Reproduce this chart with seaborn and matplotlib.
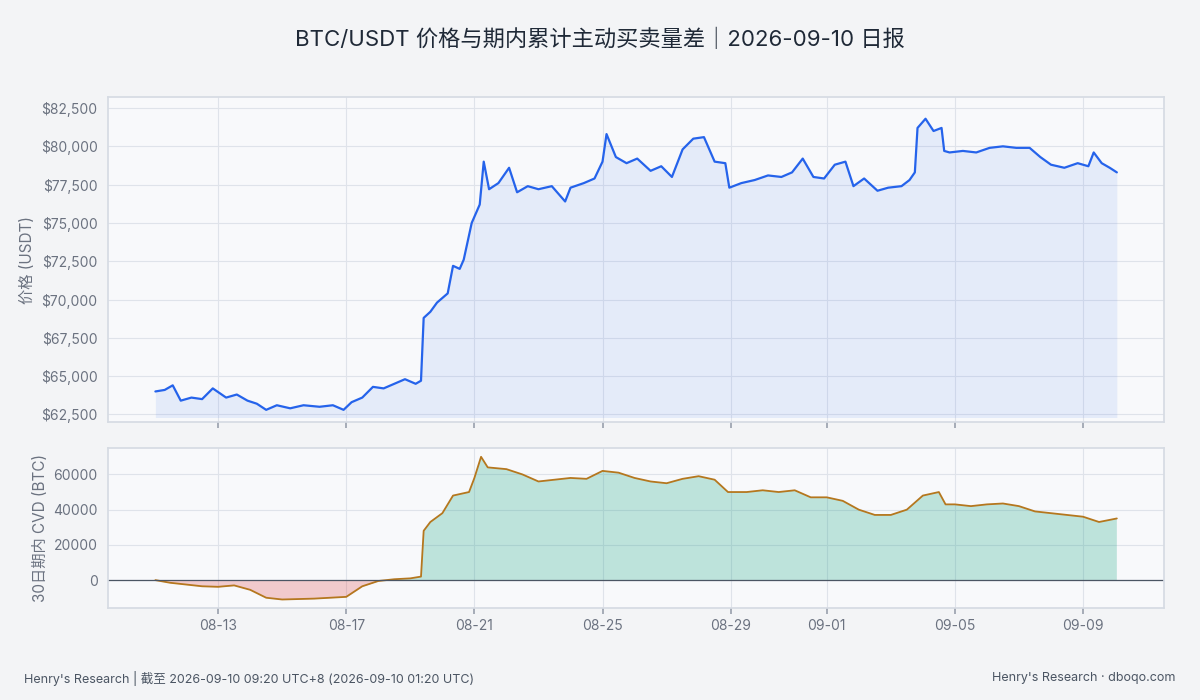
import pandas as pd
import numpy as np
import matplotlib.pyplot as plt
import matplotlib.dates as mdates
import matplotlib.ticker as mticker
import seaborn as sns

sns.set_theme(style="whitegrid")
plt.rcParams["font.family"] = ["Inter", "Noto Sans CJK SC", "DejaVu Sans"]

# ── 数据 ─────────────────────────────────────────────
PRICE_T = ["08-11 01:00", "08-11 08:00", "08-11 14:00", "08-11 20:00", "08-12 04:00", "08-12 12:00",
           "08-12 20:00", "08-13 06:00", "08-13 14:00", "08-13 22:00", "08-14 05:00", "08-14 12:00",
           "08-14 20:00", "08-15 06:00", "08-15 16:00", "08-16 04:00", "08-16 14:00", "08-16 22:00",
           "08-17 04:00", "08-17 12:00", "08-17 20:00", "08-18 04:00", "08-18 12:00", "08-18 20:00",
           "08-19 04:00", "08-19 08:00", "08-19 10:00", "08-19 15:00", "08-19 20:00", "08-20 04:00",
           "08-20 08:00", "08-20 13:00", "08-20 16:00", "08-20 22:00", "08-21 04:00", "08-21 07:00",
           "08-21 11:00", "08-21 18:00", "08-22 02:00", "08-22 08:00", "08-22 16:00", "08-23 00:00",
           "08-23 10:00", "08-23 20:00", "08-24 00:00", "08-24 10:00", "08-24 18:00", "08-25 00:00",
           "08-25 03:00", "08-25 10:00", "08-25 18:00", "08-26 02:00", "08-26 12:00", "08-26 20:00",
           "08-27 04:00", "08-27 12:00", "08-27 20:00", "08-28 04:00", "08-28 12:00", "08-28 20:00",
           "08-28 23:00", "08-29 08:00", "08-29 18:00", "08-30 04:00", "08-30 14:00", "08-30 22:00",
           "08-31 06:00", "08-31 14:00", "08-31 22:00", "09-01 06:00", "09-01 14:00", "09-01 20:00",
           "09-02 04:00", "09-02 14:00", "09-02 22:00", "09-03 08:00", "09-03 14:00", "09-03 18:00",
           "09-03 20:00", "09-04 02:00", "09-04 08:00", "09-04 14:00", "09-04 16:00", "09-04 20:00",
           "09-05 06:00", "09-05 16:00", "09-06 02:00", "09-06 12:00", "09-06 22:00", "09-07 08:00",
           "09-07 16:00", "09-08 00:00", "09-08 10:00", "09-08 20:00", "09-09 04:00", "09-09 08:00",
           "09-09 14:00", "09-09 20:00", "09-10 01:20"]
PRICE = [64000, 64100, 64400, 63400, 63600, 63500, 64200, 63600, 63800, 63400, 63200, 62800,
         63100, 62900, 63100, 63000, 63100, 62800, 63300, 63600, 64300, 64200, 64500, 64800,
         64500, 64700, 68800, 69200, 69800, 70400, 72200, 72000, 72600, 75000, 76200, 79000,
         77200, 77600, 78600, 77000, 77400, 77200, 77400, 76400, 77300, 77600, 77900, 79000,
         80800, 79300, 78900, 79200, 78400, 78700, 78000, 79800, 80500, 80600, 79000, 78900,
         77300, 77600, 77800, 78100, 78000, 78300, 79200, 78000, 77900, 78800, 79000, 77400,
         77900, 77100, 77300, 77400, 77800, 78300, 81200, 81800, 81000, 81200, 79700, 79600,
         79700, 79600, 79900, 80000, 79900, 79900, 79300, 78800, 78600, 78900, 78700, 79600,
         78900, 78600, 78300]

CVD_T = ["08-11 01:00", "08-11 12:00", "08-12 00:00", "08-12 12:00", "08-13 00:00", "08-13 12:00",
         "08-14 00:00", "08-14 12:00", "08-15 00:00", "08-16 00:00", "08-17 00:00", "08-17 12:00",
         "08-18 00:00", "08-18 12:00", "08-19 00:00", "08-19 08:00", "08-19 10:00", "08-19 15:00",
         "08-20 00:00", "08-20 08:00", "08-20 20:00", "08-21 00:00", "08-21 05:00", "08-21 10:00",
         "08-22 00:00", "08-22 12:00", "08-23 00:00", "08-23 12:00", "08-24 00:00", "08-24 12:00",
         "08-25 00:00", "08-25 12:00", "08-26 00:00", "08-26 12:00", "08-27 00:00", "08-27 12:00",
         "08-28 00:00", "08-28 12:00", "08-28 22:00", "08-29 12:00", "08-30 00:00", "08-30 12:00",
         "08-31 00:00", "08-31 12:00", "09-01 00:00", "09-01 12:00", "09-02 00:00", "09-02 12:00",
         "09-03 00:00", "09-03 12:00", "09-04 00:00", "09-04 12:00", "09-04 17:00", "09-05 00:00",
         "09-05 12:00", "09-06 00:00", "09-06 12:00", "09-07 00:00", "09-07 12:00", "09-08 00:00",
         "09-08 12:00", "09-09 00:00", "09-09 12:00", "09-10 01:20"]
CVD = [0, -1500, -2500, -3500, -3800, -3000, -5500, -10000, -11000, -10500, -9500, -3500,
       -500, 500, 1000, 2000, 28000, 33000, 38000, 48000, 50000, 58000, 70000, 64000,
       63000, 60000, 56000, 57000, 58000, 57500, 62000, 61000, 58000, 56000, 55000, 57500,
       59000, 57000, 50000, 50000, 51000, 50000, 51000, 47000, 47000, 45000, 40000, 37000,
       37000, 40000, 48000, 50000, 43000, 43000, 42000, 43000, 43500, 42000, 39000, 38000,
       37000, 36000, 33000, 35000]

YEAR = "2026-"
pt = pd.to_datetime([YEAR + t for t in PRICE_T])
ct = pd.to_datetime([YEAR + t for t in CVD_T])
price = np.array(PRICE)
cvd = np.array(CVD)

# ── 画布 ─────────────────────────────────────────────
BG, AX_BG, GRID, TXT = "#f3f4f6", "#f8f9fb", "#dfe3ea", "#6b7280"
fig = plt.figure(figsize=(12, 7), dpi=100, facecolor=BG)
ax1 = fig.add_axes([0.09, 0.397, 0.88, 0.464], facecolor=AX_BG)
ax2 = fig.add_axes([0.09, 0.131, 0.88, 0.229], facecolor=AX_BG, sharex=ax1)

# 价格
sns.lineplot(x=pt, y=price, ax=ax1, color="#2563eb", lw=1.6)
ax1.fill_between(pt, price, 62300, color="#2563eb", alpha=0.09, lw=0)
ax1.set_ylim(62000, 83200)
ax1.yaxis.set_major_locator(mticker.MultipleLocator(2500))
ax1.yaxis.set_major_formatter(mticker.FuncFormatter(lambda v, _: f"${v:,.0f}"))
ax1.set_ylabel("价格 (USDT)", color=TXT, fontsize=11)
plt.setp(ax1.get_xticklabels(), visible=False)

# CVD
sns.lineplot(x=ct, y=cvd, ax=ax2, color="#b5771e", lw=1.3)
ax2.fill_between(ct, cvd, 0, where=cvd >= 0, interpolate=True, color="#10a37f", alpha=0.25, lw=0)
ax2.fill_between(ct, cvd, 0, where=cvd < 0, interpolate=True, color="#dc2626", alpha=0.22, lw=0)
ax2.axhline(0, color="#4b5563", lw=0.9)
ax2.set_ylim(-16000, 75000)
ax2.yaxis.set_major_locator(mticker.MultipleLocator(20000))
ax2.set_ylabel("30日期内 CVD (BTC)", color=TXT, fontsize=11)

ticks = pd.to_datetime([YEAR + d for d in ["08-13", "08-17", "08-21", "08-25", "08-29", "09-01", "09-05", "09-09"]])
ax2.set_xticks(ticks)
ax2.xaxis.set_major_formatter(mdates.DateFormatter("%m-%d"))
ax2.set_xlim(pd.Timestamp("2026-08-09 13:30"), pd.Timestamp("2026-09-11 12:40"))

for ax in (ax1, ax2):
    ax.grid(True, color=GRID, lw=0.8)
    ax.tick_params(colors=TXT, labelsize=10, length=4)
    ax.tick_params(axis="x", bottom=True, color="#9ca3af")
    for s in ax.spines.values():
        s.set_color("#d6dbe3")
    ax.set_xlabel("")

fig.text(0.5, 0.945, "BTC/USDT 价格与期内累计主动买卖量差｜2026-09-10 日报",
         ha="center", va="center", fontsize=16, color="#1f2937")
fig.text(0.02, 0.031, "Henry's Research | 截至 2026-09-10 09:20 UTC+8 (2026-09-10 01:20 UTC)",
         ha="left", va="center", fontsize=9, color="#4b5563")
fig.text(0.98, 0.031, "Henry's Research · dboqo.com",
         ha="right", va="center", fontsize=9, color="#4b5563")

fig.savefig("out.png", dpi=100, facecolor=BG)
